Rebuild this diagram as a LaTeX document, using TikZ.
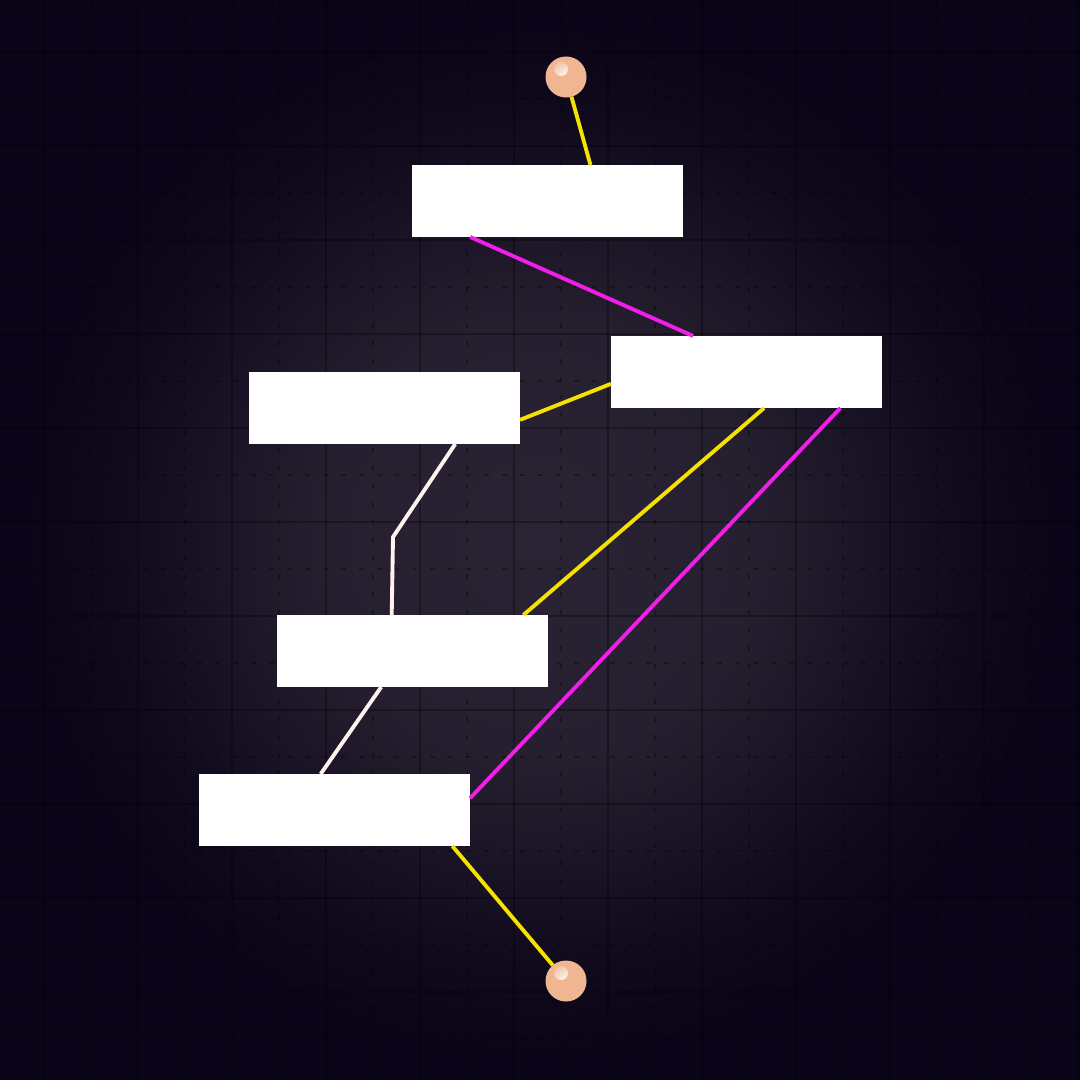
\documentclass[tikz,border=0pt]{standalone}
\usepackage{tikz}
\usetikzlibrary{arrows.meta}
\definecolor{bgdark}{RGB}{11,4,24}
\definecolor{bgglow}{RGB}{42,35,52}
\definecolor{bgglowa}{RGB}{37,31,47}
\definecolor{bgglowb}{RGB}{26,20,38}
\definecolor{bgglowc}{RGB}{15,9,28}
\definecolor{peach}{RGB}{240,182,146}
\definecolor{linkyel}{RGB}{246,226,0}
\definecolor{linkmag}{RGB}{240,30,232}
\definecolor{linkwht}{RGB}{255,242,238}
\pgfdeclareradialshading{glow}{\pgfpoint{0bp}{0bp}}{color(0bp)=(bgglow); color(10bp)=(bgglowa); color(15bp)=(bgglowb); color(20bp)=(bgglowc); color(24bp)=(bgdark); color(50bp)=(bgdark)}
\tikzstyle{box}=[rectangle, fill=white, minimum width=2.71cm, minimum height=0.72cm, inner sep=0, outer sep=0]
\tikzstyle{ball}=[circle, fill=peach, minimum size=0.41cm, inner sep=0, outer sep=0, path picture={\shade[inner color=white, outer color=peach] ([xshift=-0.05cm,yshift=0.08cm]path picture bounding box.center) circle (0.07cm);}]
\tikzstyle{gridsolid}=[draw=black, opacity=0.3, line width=0.6pt]
\tikzstyle{griddash}=[draw=black, opacity=0.3, line width=0.6pt, dash pattern=on 1.4pt off 3.7pt]
\tikzstyle{linkyellow}=[draw=linkyel, line width=1.1pt]
\tikzstyle{linkmagenta}=[draw=linkmag, line width=1.1pt]
\tikzstyle{linkwhite}=[draw=linkwht, line width=1.1pt, line join=round]

\begin{document}
\begin{tikzpicture}[x=0.01cm, y=-0.01cm]
	\useasboundingbox (0,0) rectangle (1080,1080);
	\begin{scope}
		\fill[bgdark] (0,0) rectangle (1080,1080);
		\shade[shading=glow] (0,0) rectangle (1080,1080);
		\foreach \k in {0,...,11} {
			\path [gridsolid] (44+94*\k,0) -- (44+94*\k,1080);
			\path [griddash] (91+94*\k,0) -- (91+94*\k,1080);
			\path [gridsolid] (0,52+94*\k) -- (1080,52+94*\k);
			\path [griddash] (0,5+94*\k) -- (1080,5+94*\k);
		}
	\end{scope}
	\begin{scope}
		\node (0) at (566, 77) [ball] {};
		\node (1) at (547.5, 201) [box] {};
		\node (2) at (746.5, 372) [box] {};
		\node (3) at (384.5, 408) [box] {};
		\node (4) at (412.5, 651) [box] {};
		\node (5) at (334.5, 810) [box] {};
		\node (9) at (566, 981) [ball] {};
		\coordinate (k) at (393, 537);
	\end{scope}
	\begin{scope}
		\path [linkyellow] (0) edge (1.40.3);
		\path [linkmagenta] (1.-155.1) edge (2.146.6);
		\path [linkyellow] (3.-5.06) edge (2.-175.8);
		\draw [linkwhite] (3.-27.7) -- (k) -- (4.120.8);
		\path [linkyellow] (2.-64.1) edge (4.18.68);
		\path [linkmagenta] (2.-21.9) edge (5.5.48);
		\path [linkwhite] (4.-131.2) edge (5.111.9);
		\path [linkyellow] (5.-17.6) edge (9);
	\end{scope}
\end{tikzpicture}
\end{document}
